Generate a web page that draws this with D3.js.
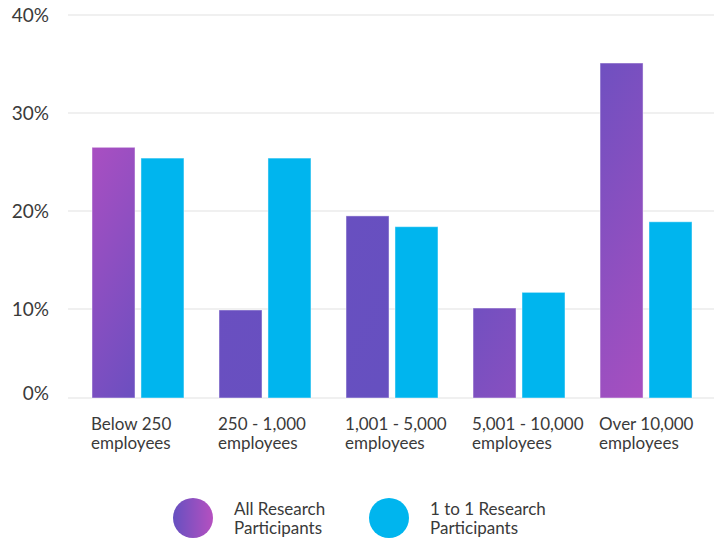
<!DOCTYPE html>
<html>
<head>
<meta charset="utf-8">
<script src="https://cdn.jsdelivr.net/npm/d3@7"></script>
<style>
  body { margin: 0; background: #fff; }
  text { font-family: Lato, "Open Sans", sans-serif; fill: #3a3a3a; }
</style>
</head>
<body>
<div id="chart"></div>
<script>
// data
var categories = [["Below 250", "employees"], ["250 - 1,000", "employees"], ["1,001 - 5,000", "employees"], ["5,001 - 10,000", "employees"], ["Over 10,000", "employees"]];
var seriesNames = [["All Research", "Participants"], ["1 to 1 Research", "Participants"]];
var allResearch = [26.5, 9.9, 19.5, 10.1, 35.1];
var oneToOne = [25.4, 25.4, 18.4, 11.7, 18.9];
var yTicks = [0, 10, 20, 30, 40];

var W = 714, H = 539;
var baseline = 398; // where the bars and the 0% line sit

var svg = d3.select("#chart").append("svg").attr("width", W).attr("height", H);

var defs = svg.append("defs");
// one gradient across the whole plot: magenta at both diagonal ends, purple in the middle
var grad = defs.append("linearGradient").attr("id", "purpleGrad")
    .attr("gradientUnits", "userSpaceOnUse")
    .attr("x1", 60).attr("y1", 60).attr("x2", 700).attr("y2", 420);
grad.append("stop").attr("offset", "0.05").attr("stop-color", "#b64fc2");
grad.append("stop").attr("offset", "0.32").attr("stop-color", "#6a4fc0");
grad.append("stop").attr("offset", "0.6").attr("stop-color", "#6650c0");
grad.append("stop").attr("offset", "0.95").attr("stop-color", "#ae4fc0");

var legGrad = defs.append("linearGradient").attr("id", "legendGrad")
    .attr("x1", "0").attr("y1", "0").attr("x2", "1").attr("y2", "0");
legGrad.append("stop").attr("offset", "0").attr("stop-color", "#6650c0");
legGrad.append("stop").attr("offset", "1").attr("stop-color", "#b550c0");

var colors = ["url(#purpleGrad)", "#00b5ee"];

var y = d3.scaleLinear().domain([0, 40]).range([407, 15]);
function tickY(t) { return t === 0 ? baseline : y(t); }

var x0 = d3.scaleBand().domain(d3.range(categories.length)).range([92, 692])
    .paddingInner(0.276).paddingOuter(0);
var x1 = d3.scaleBand().domain([0, 1]).range([0, x0.bandwidth()]).paddingInner(0.122);

// gridlines
svg.append("g").selectAll("line").data(yTicks).enter().append("line")
    .attr("x1", 68).attr("x2", W)
    .attr("y1", tickY).attr("y2", tickY)
    .attr("stroke", "#f0f0f0").attr("stroke-width", 2);

// y labels
svg.append("g").selectAll("text").data(yTicks).enter().append("text")
    .attr("x", 49).attr("y", function(d) { return tickY(d) - (d === 0 ? 5 : 0); })
    .attr("dy", "0.35em").attr("text-anchor", "end")
    .style("font-size", "19px")
    .text(function(d) { return d + "%"; });

// bars (no group transform so the shared gradient stays in page coordinates)
var bars = [];
categories.forEach(function(c, i) {
    bars.push({ cat: i, s: 0, v: allResearch[i] });
    bars.push({ cat: i, s: 1, v: oneToOne[i] });
});
svg.append("g").selectAll("rect").data(bars).enter().append("rect")
    .attr("x", function(d) { return x0(d.cat) + x1(d.s); })
    .attr("y", function(d) { return y(d.v); })
    .attr("width", x1.bandwidth())
    .attr("height", function(d) { return baseline - y(d.v); })
    .attr("fill", function(d) { return colors[d.s]; })
    .attr("stroke", "rgba(255,255,255,0.45)").attr("stroke-width", 1);

// x labels
var xl = svg.append("g").selectAll("text").data(categories).enter().append("text")
    .attr("x", function(d, i) { return x0(i) - 1; })
    .attr("y", 430)
    .style("font-size", "17px");
xl.selectAll("tspan").data(function(d) { return d; }).enter().append("tspan")
    .attr("x", function() { return d3.select(this.parentNode).attr("x"); })
    .attr("dy", function(d, k) { return k === 0 ? 0 : 19; })
    .text(function(d) { return d; });

// legend
var legX = [193, 389];
var leg = svg.append("g").selectAll("g").data(seriesNames).enter().append("g")
    .attr("transform", function(d, i) { return "translate(" + legX[i] + ",518)"; });
leg.append("circle").attr("r", 20)
    .attr("fill", function(d, i) { return i === 0 ? "url(#legendGrad)" : colors[1]; });
var lt = leg.append("text").attr("x", 41).attr("y", -3)
    .style("font-size", "17px");
lt.selectAll("tspan").data(function(d) { return d; }).enter().append("tspan")
    .attr("x", 41).attr("dy", function(d, k) { return k === 0 ? 0 : 19; })
    .text(function(d) { return d; });
</script>
</body>
</html>
